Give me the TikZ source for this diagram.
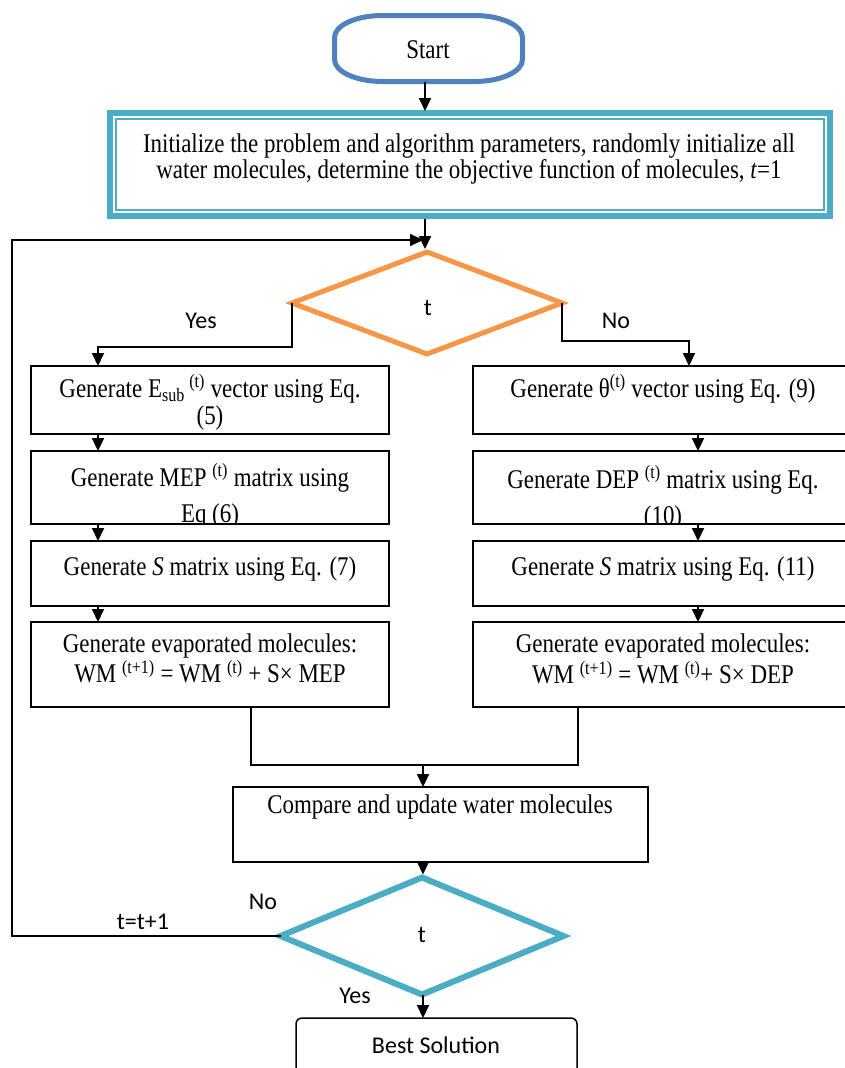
\documentclass[tikz,border=0pt]{standalone}
\usepackage{fontspec}
\setmainfont{Liberation Serif}[FakeStretch=0.85]
\newfontfamily\lblfont{Carlito}
\usetikzlibrary{arrows.meta,shapes.geometric,calc}
\definecolor{startblue}{HTML}{4F81BD}
\definecolor{dorange}{HTML}{F79646}
\definecolor{dteal}{HTML}{4BACC6}
\newcommand{\twoln}[2]{\begin{tabular}[t]{@{}c@{}}#1\\#2\end{tabular}}
\newcommand{\twolnsp}[3]{\begin{tabular}[t]{@{}c@{}}#1\\[#3]#2\end{tabular}}
\begin{document}
\begin{tikzpicture}[x=1pt,y=-1pt,
  boxst/.style={draw=black, line width=1.5pt, rectangle, inner sep=0pt, outer sep=0pt, anchor=north west},
  txt/.style={inner sep=0pt, outer sep=0pt, anchor=base, font=\fontsize{27}{27}\selectfont},
  lbl/.style={inner sep=0pt, outer sep=0pt, anchor=base, font=\lblfont\fontsize{24}{28}\selectfont},
  arr/.style={draw=black, line width=2pt, -{Triangle[width=12pt,length=13pt]}},
  conn/.style={draw=black, line width=2pt},
  dec/.style={diamond, inner sep=0pt, outer sep=0pt}]
\useasboundingbox (0,0) rectangle (845,1068);
\clip (0,0) rectangle (845,1068);
\fill[white] (0,0) rectangle (845,1068);

% Start
\node[inner sep=0pt, outer sep=0pt, minimum width=188pt, minimum height=66pt] (start) at (428.5,48.5) {};
\draw[startblue, line width=5pt] (382.5,15.5) -- (474.5,15.5)
  arc[start angle=-90,end angle=0,x radius=48,y radius=22] -- (522.5,59.5)
  arc[start angle=0,end angle=90,x radius=48,y radius=22] -- (382.5,81.5)
  arc[start angle=90,end angle=180,x radius=48,y radius=22] -- (334.5,37.5)
  arc[start angle=180,end angle=270,x radius=48,y radius=22] -- cycle;
\node[txt] (starttxt) at (428,58) {Start};

% Init
\node[draw=dteal, line width=10pt, inner sep=0pt, outer sep=0pt, minimum width=716pt, minimum height=99pt, anchor=north west] (init) at (112,115) {};
\draw[white, line width=1.8pt] ([shift={(2,2)}]init.north west) rectangle ([shift={(-2,-2)}]init.south east);
\node[txt, font=\fontsize{27}{26}\selectfont] (inittxt) at (469,152) {\twoln{Initialize the problem and algorithm parameters, randomly initialize all}{water molecules, determine the objective function of molecules, \textit{t}=1}};

% Decision 1
\node[dec, draw=dorange, line width=5pt, minimum width=270pt, minimum height=102pt, aspect=2.65] (d1) at (427,303) {};
\node[lbl] (d1t) at (428,315) {t};
\node[lbl] (yes1) at (201,328) {Yes};
\node[lbl] (no1) at (616,328) {No};

% Left column
\node[boxst, minimum width=358pt, minimum height=68pt] (L1) at (31,366) {};
\node[boxst, minimum width=358pt, minimum height=73pt] (L2) at (31,451) {};
\node[boxst, minimum width=358pt, minimum height=65pt] (L3) at (31,541) {};
\node[boxst, minimum width=358pt, minimum height=85pt] (L4) at (31,622) {};
% Right column
\node[boxst, minimum width=380pt, minimum height=68pt] (R1) at (473,366) {};
\node[boxst, minimum width=380pt, minimum height=73pt] (R2) at (473,451) {};
\node[boxst, minimum width=380pt, minimum height=65pt] (R3) at (473,541) {};
\node[boxst, minimum width=380pt, minimum height=85pt] (R4) at (473,622) {};

\node[txt] (L1t) at (210,397) {\twoln{Generate E\textsubscript{sub}\,\textsuperscript{(t)} vector using Eq.}{(5)}};
\node[txt] (R1t) at (663,397) {Generate θ\textsuperscript{(t)} vector using Eq. (9)};
\begin{scope}
\clip (L2.north west) rectangle (L2.south east);
\node[txt] (L2t) at (210,486) {\twolnsp{Generate MEP \textsuperscript{(t)} matrix using}{Eq (6)}{9pt}};
\end{scope}
\begin{scope}
\clip (R2.north west) rectangle (R2.south east);
\node[txt] (R2t) at (663,488) {\twolnsp{Generate DEP \textsuperscript{(t)} matrix using Eq.}{(10)}{9pt}};
\end{scope}
\node[txt] (L3t) at (210,575) {Generate \textit{S} matrix using Eq. (7)};
\node[txt] (R3t) at (663,575) {Generate \textit{S} matrix using Eq. (11)};
\node[txt, font=\fontsize{27}{28}\selectfont] (L4t) at (210,652) {\twoln{Generate evaporated molecules:}{WM \textsuperscript{(t+1)} = WM \textsuperscript{(t)} + S× MEP}};
\node[txt, font=\fontsize{27}{30}\selectfont] (R4t) at (663,652) {\twoln{Generate evaporated molecules:}{WM \textsuperscript{(t+1)} = WM \textsuperscript{(t)}+ S× DEP}};

% Compare
\node[boxst, minimum width=415pt, minimum height=75pt] (comp) at (233,787) {};
\node[txt] (comptxt) at (440,813) {Compare and update water molecules};

% Decision 2
\node[dec, draw=dteal, line width=6pt, minimum width=283pt, minimum height=117pt, aspect=2.4] (d2) at (422,936) {};
\node[lbl] (d2t) at (422,942) {t};
\node[lbl] (no2) at (263,909) {No};
\node[lbl] (inc) at (143,929) {t=t+1};
\node[lbl] (yes2) at (355,1003) {Yes};

% Best solution
\node[boxst, rounded corners=6pt, minimum width=281pt, minimum height=120pt] (best) at (296,1018) {};
\node[lbl] (besttxt) at (436,1053) {Best Solution};

% Connectors
\coordinate (xm) at (425,0);
\coordinate (xl) at (98,0);
\coordinate (xr) at (698,0);
\coordinate (xr1) at (689,0);
\coordinate (lt) at (12,240);
\coordinate (lj) at (423,240);
\coordinate (ml) at (251,765);
\coordinate (mr) at (578,765);
\coordinate (mm) at (423,765);

\draw[arr, shorten >=4pt] (start.south -| xm) -- (init.north -| xm);
\draw[arr, shorten <=5pt, shorten >=3pt] (init.south -| xm) -- (d1.north -| xm);
\draw[arr] (d2.west) -| (lt) -- (lj);
\draw[arr] (d1.west) -- ++(0,44) -| (L1.north -| xl);
\draw[arr] (d1.east) -- ++(0,38) -| (R1.north -| xr1);
\draw[arr] (L1.south -| xl) -- (L2.north -| xl);
\draw[arr] (L2.south -| xl) -- (L3.north -| xl);
\draw[arr] (L3.south -| xl) -- (L4.north -| xl);
\draw[arr] (R1.south -| xr) -- (R2.north -| xr);
\draw[arr] (R2.south -| xr) -- (R3.north -| xr);
\draw[arr] (R3.south -| xr) -- (R4.north -| xr);
\draw[conn] (L4.south -| ml) -- (ml) -- (mr) -- (R4.south -| mr);
\draw[arr] (mm) -- (comp.north -| mm);
\draw[arr, shorten >=3pt] (comp.south -| mm) -- (d2.north -| mm);
\draw[arr] (d2.south -| mm) -- (best.north -| mm);
\end{tikzpicture}
\end{document}
